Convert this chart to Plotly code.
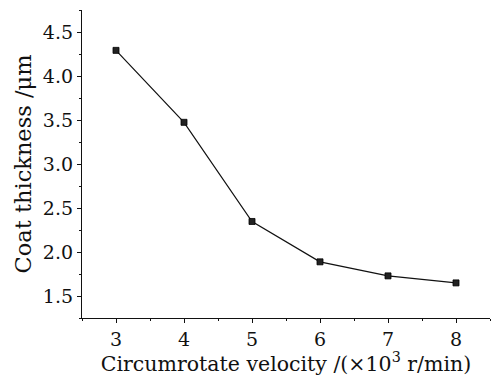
import plotly.graph_objects as go

velocity = [3, 4, 5, 6, 7, 8]
thickness = [4.30, 3.48, 2.35, 1.89, 1.73, 1.65]

FAM = "DejaVu Serif"

fig = go.Figure()
fig.add_trace(go.Scatter(
    x=velocity, y=thickness, mode="lines+markers",
    line=dict(color="#111111", width=1.2),
    marker=dict(symbol="square", size=6, color="#222222", line=dict(color="#000", width=0.8)),
    showlegend=False,
))

fig.update_layout(
    width=492, height=376,
    margin=dict(l=82, r=2, t=10, b=58),
    paper_bgcolor="white", plot_bgcolor="white",
    font=dict(family=FAM, color="#111", size=19),
    xaxis=dict(
        range=[2.5, 8.5], tickvals=velocity, ticks="outside", ticklen=4, tickwidth=1.2,
        tickcolor="#111", showline=True, linecolor="#111", linewidth=1.3,
        showgrid=False, zeroline=False,
        minor=dict(ticks="outside", ticklen=2, dtick=0.5, tick0=2.5, tickcolor="#111", showgrid=False),
        title=dict(text="Circumrotate velocity /(×10<sup>3</sup> r/min)", standoff=4,
                   font=dict(family=FAM, size=20.5, color="#111")),
        tickfont=dict(family=FAM, size=19, color="#111"),
    ),
    yaxis=dict(
        range=[1.25, 4.76], tickvals=[1.5, 2.0, 2.5, 3.0, 3.5, 4.0, 4.5],
        ticktext=["1.5", "2.0", "2.5", "3.0", "3.5", "4.0", "4.5"],
        ticks="outside", ticklen=4, tickwidth=1.2, tickcolor="#111",
        showline=True, linecolor="#111", linewidth=1.3,
        showgrid=False, zeroline=False,
        minor=dict(ticks="outside", ticklen=2, dtick=0.25, tick0=1.25, tickcolor="#111", showgrid=False),
        title=dict(text="Coat thickness /μm", standoff=4,
                   font=dict(family=FAM, size=22.5, color="#111")),
        tickfont=dict(family=FAM, size=19, color="#111"),
    ),
)

fig.write_html("out.html")
